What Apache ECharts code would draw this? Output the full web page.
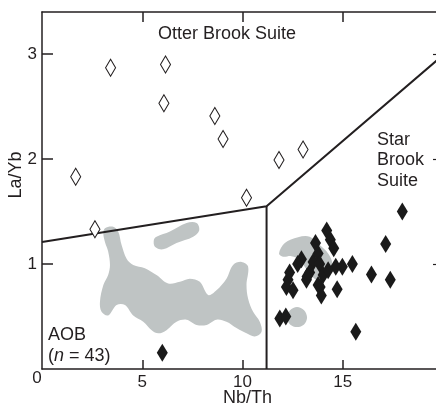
<!DOCTYPE html>
<html>
<head>
<meta charset="utf-8">
<script src="https://cdn.jsdelivr.net/npm/echarts@6/dist/echarts.min.js"></script>
<style>html,body{margin:0;padding:0;background:#fff}#c{width:436px;height:406px}</style>
</head>
<body>
<div id="c"></div>
<script>
// Tick labels
var xTicks = [5, 10, 15];
var yTicks = [1, 2, 3];

// Otter Brook Suite (open diamonds) [Nb/Th, La/Yb]
var otterBrook = [
  [1.68, 1.83], [3.42, 2.87], [6.16, 2.90], [6.08, 2.53], [8.62, 2.41],
  [9.03, 2.19], [11.82, 1.99], [13.02, 2.09], [10.20, 1.63], [2.64, 1.33]
];

// Star Brook Suite (filled diamonds)
var starBrook = [
  [6.00, 0.155], [17.97, 1.50], [17.14, 1.19], [17.37, 0.85], [16.43, 0.90],
  [15.65, 0.355], [15.48, 1.00], [14.72, 0.76], [14.98, 0.975], [14.65, 0.975],
  [14.20, 1.32], [14.38, 1.23], [14.55, 1.15], [13.64, 1.20], [12.94, 1.045],
  [12.75, 1.00], [13.52, 1.02], [13.77, 1.10], [13.85, 1.00], [14.02, 0.895],
  [14.27, 0.94], [13.19, 0.85], [13.35, 0.92], [13.87, 0.78], [13.93, 0.70],
  [12.27, 0.85], [12.19, 0.78], [12.52, 0.75], [12.35, 0.92], [11.86, 0.48],
  [12.16, 0.50], [13.22, 0.88], [13.77, 0.80]
];

// Field boundaries
var boundaryUpper = [[0, 1.21], [11.2, 1.55], [19.7, 2.94]];
var boundaryVertical = [[11.2, 0], [11.2, 1.55]];

// AOB grey fields (outlines in data coordinates)
var aobFieldMain = [
  [3.14,1.34],[3.55,1.355],[3.80,1.31],[3.97,1.18],[4.22,1.05],[4.55,0.99],[5.13,0.96],
  [5.71,0.895],[6.29,0.815],[6.88,0.83],[7.37,0.86],[7.87,0.83],[8.29,0.705],[8.70,0.75],
  [9.20,0.86],[9.53,0.99],[9.95,1.02],[10.28,0.975],[10.20,0.80],[10.28,0.67],[10.53,0.545],
  [10.86,0.45],[10.95,0.355],[10.61,0.31],[10.20,0.34],[9.70,0.39],[9.20,0.45],[8.70,0.47],
  [8.21,0.42],[7.71,0.42],[7.21,0.47],[6.71,0.45],[6.21,0.37],[5.80,0.34],[5.47,0.37],
  [5.05,0.45],[4.55,0.51],[4.14,0.61],[3.72,0.61],[3.30,0.51],[2.97,0.545],[2.89,0.64],
  [3.06,0.80],[3.30,0.895],[3.39,0.99],[3.30,1.12],[3.14,1.21],[3.06,1.29]
];
var aobFieldBar = [
  [5.71,1.26],[6.38,1.31],[7.21,1.39],[7.71,1.39],[7.84,1.32],[7.54,1.26],[6.71,1.20],
  [6.04,1.14],[5.63,1.165],[5.58,1.23]
];
var aobFieldCrescent = [
  [11.82,1.10],[12.11,1.20],[12.77,1.255],[13.35,1.26],[13.85,1.18],[14.27,1.10],[14.48,1.005],
  [14.35,0.925],[14.02,0.86],[13.69,0.85],[13.35,0.91],[13.10,0.975],[12.86,1.04],[12.44,1.075],
  [12.02,1.07]
];
var aobFieldRound = [
  [13.22,0.49],[13.07,0.56],[12.72,0.59],[12.37,0.56],[12.22,0.49],[12.37,0.425],[12.72,0.40],[13.07,0.425]
];
var aobFields = [aobFieldMain, aobFieldBar, aobFieldCrescent, aobFieldRound];

var INK = '#231f20';
var GREY = '#bfc4c4';
var FONT = 'Liberation Sans, Arial, sans-serif';
var TXT = '18px ' + FONT;

var chart = echarts.init(document.getElementById('c'));

function fieldSeries(pts, i) {
  return {
    type: 'custom',
    name: 'AOB field ' + i,
    silent: true,
    z: 1,
    data: [0],
    renderItem: function (params, api) {
      var p = pts.map(function (d) { return api.coord(d); });
      return { type: 'polygon', shape: { points: p, smooth: 0.35 }, style: { fill: GREY, stroke: null } };
    }
  };
}

var series = aobFields.map(fieldSeries);
series.push({
  type: 'line', data: boundaryUpper, symbol: 'none', z: 3,
  lineStyle: { color: INK, width: 2 }, silent: true
});
series.push({
  type: 'line', data: boundaryVertical, symbol: 'none', z: 3,
  lineStyle: { color: INK, width: 2 }, silent: true
});
series.push({
  type: 'scatter', name: 'Otter Brook Suite', data: otterBrook, symbol: 'diamond',
  symbolSize: [10, 17], z: 5,
  itemStyle: { color: '#fff', borderColor: INK, borderWidth: 1.1, opacity: 1 }
});
series.push({
  type: 'scatter', name: 'Star Brook Suite', data: starBrook, symbol: 'diamond',
  symbolSize: [11, 18], z: 5,
  itemStyle: { color: '#1a1a1a', opacity: 1 }
});

var axisLine = { show: true, onZero: false, lineStyle: { color: INK, width: 1.5 } };

chart.setOption({
  animation: false,
  backgroundColor: '#fff',
  grid: { left: 42, top: 12, width: 395, height: 357, containLabel: false, outerBoundsMode: 'none' },
  xAxis: [
    {
      type: 'value', min: 0, max: 19.7, position: 'bottom',
      axisLine: axisLine, splitLine: { show: false },
      axisTick: { show: true, inside: true, length: 9, customValues: xTicks, lineStyle: { color: INK, width: 1.5 } },
      axisLabel: { show: true, customValues: xTicks, margin: 5, color: INK, fontSize: 17, fontFamily: FONT },
      name: 'Nb/Th', nameLocation: 'middle', nameGap: 20, nameMoveOverlap: false,
      nameTextStyle: { color: INK, fontSize: 18, fontFamily: FONT, padding: [0, 0, 0, 16] }
    },
    {
      type: 'value', min: 0, max: 19.7, position: 'top',
      axisLine: axisLine, splitLine: { show: false },
      axisTick: { show: true, inside: true, length: 10, customValues: xTicks, lineStyle: { color: INK, width: 1.5 } },
      axisLabel: { show: false }
    }
  ],
  yAxis: [
    {
      type: 'value', min: 0, max: 3.4, position: 'left',
      axisLine: axisLine, splitLine: { show: false },
      axisTick: { show: true, inside: true, length: 11, customValues: yTicks, lineStyle: { color: INK, width: 1.5 } },
      axisLabel: { show: true, customValues: yTicks, margin: 5, color: INK, fontSize: 17, fontFamily: FONT }
    },
    {
      type: 'value', min: 0, max: 3.4, position: 'right',
      axisLine: { show: false, onZero: false }, splitLine: { show: false },
      axisTick: { show: true, inside: true, length: 4, customValues: yTicks, lineStyle: { color: INK, width: 1.2 } },
      axisLabel: { show: false }
    }
  ],
  graphic: [
    { type: 'text', x: 37, y: 378, style: { text: '0', fill: INK, font: '17px ' + FONT, align: 'center', verticalAlign: 'middle' } },
    { type: 'text', x: 16, y: 175, rotation: Math.PI / 2, style: { text: 'La/Yb', fill: INK, font: TXT, align: 'center', verticalAlign: 'middle' } },
    { type: 'text', x: 227, y: 34, style: { text: 'Otter Brook Suite', fill: INK, font: TXT, align: 'center', verticalAlign: 'middle' } },
    { type: 'text', x: 377, y: 140, style: { text: 'Star', fill: INK, font: TXT, align: 'left', verticalAlign: 'middle' } },
    { type: 'text', x: 377, y: 160, style: { text: 'Brook', fill: INK, font: TXT, align: 'left', verticalAlign: 'middle' } },
    { type: 'text', x: 377, y: 181, style: { text: 'Suite', fill: INK, font: TXT, align: 'left', verticalAlign: 'middle' } },
    { type: 'text', x: 48, y: 335, style: { text: 'AOB', fill: INK, font: TXT, align: 'left', verticalAlign: 'middle' } },
    { type: 'text', x: 48, y: 356, style: {
        text: '({i|n} = 43)', fill: INK, font: TXT, align: 'left', verticalAlign: 'middle',
        rich: { i: { fontStyle: 'italic', fontSize: 18, fontFamily: FONT, fill: INK } }
    } }
  ],
  series: series
});
</script>
</body>
</html>
